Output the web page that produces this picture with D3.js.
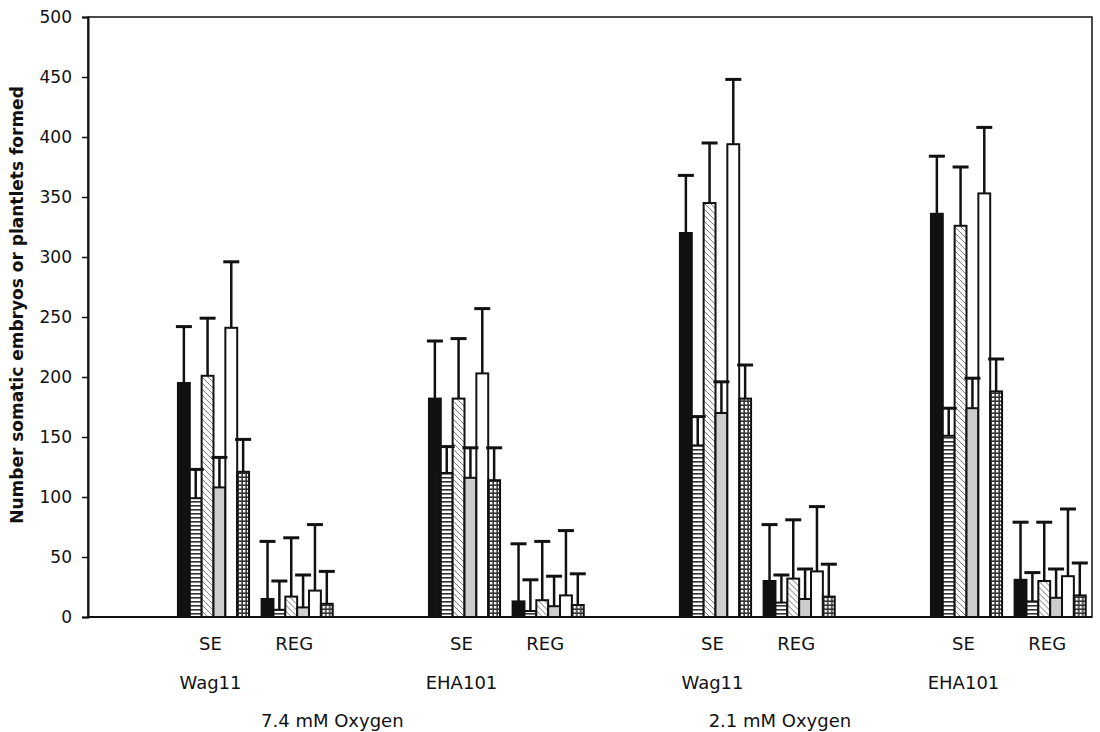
<!DOCTYPE html>
<html>
<head>
<meta charset="utf-8">
<script src="https://cdn.jsdelivr.net/npm/d3@7"></script>
<style>
  body { margin: 0; background: #fff; }
  text { font-family: "DejaVu Sans", Verdana, sans-serif; fill: #111; }
</style>
</head>
<body>
<svg id="chart"></svg>
<script>
// slots along the x axis, "" = empty spacer slot
var slots = ["", "SE", "REG", "", "SE", "REG", "", "SE", "REG", "", "SE", "REG"];
var groups = [1, 2, 4, 5, 7, 8, 10, 11];

var strainLabels = [
  { slot: 1, text: "Wag11" },
  { slot: 4, text: "EHA101" },
  { slot: 7, text: "Wag11" },
  { slot: 10, text: "EHA101" }
];
var oxygenLabels = [
  { slot: 2.92, text: "7.4 mM Oxygen" },
  { slot: 8.27, text: "2.1 mM Oxygen" }
];

var series = ["s1", "s2", "s3", "s4", "s5", "s6"];

// bar values per group (6 series each)
var values = [
  [195, 99, 201, 108, 241, 121],
  [15, 6, 17, 8, 22, 11],
  [182, 120, 182, 116, 203, 114],
  [13, 5, 14, 9, 18, 10],
  [320, 143, 345, 170, 394, 182],
  [30, 12, 32, 15, 38, 17],
  [336, 151, 326, 174, 353, 188],
  [31, 13, 30, 16, 34, 18]
];
// top of error bar per group
var errTops = [
  [242, 123, 249, 133, 296, 148],
  [63, 30, 66, 35, 77, 38],
  [230, 142, 232, 141, 257, 141],
  [61, 31, 63, 34, 72, 36],
  [368, 167, 395, 196, 448, 210],
  [77, 35, 81, 40, 92, 44],
  [384, 174, 375, 199, 408, 215],
  [79, 37, 79, 40, 90, 45]
];

var yTicks = d3.range(0, 501, 50);

var width = 1100, height = 732;
var margin = { top: 17, right: 8, bottom: 115, left: 88 };
var plotW = width - margin.left - margin.right,
    plotH = height - margin.top - margin.bottom;

var svg = d3.select("#chart")
    .attr("width", width)
    .attr("height", height);

// patterns
var defs = svg.append("defs");

var pHoriz = defs.append("pattern").attr("id", "horiz")
    .attr("patternUnits", "userSpaceOnUse").attr("width", 4).attr("height", 4);
pHoriz.append("rect").attr("width", 4).attr("height", 4).attr("fill", "#fff");
pHoriz.append("rect").attr("y", 0).attr("width", 4).attr("height", 1.6).attr("fill", "#333");

var pDiag = defs.append("pattern").attr("id", "diag")
    .attr("patternUnits", "userSpaceOnUse").attr("width", 6).attr("height", 6);
pDiag.append("rect").attr("width", 6).attr("height", 6).attr("fill", "#fff");
pDiag.append("path").attr("d", "M0,0 L6,6 M-3,3 L3,9 M3,-3 L9,3")
    .attr("stroke", "#777").attr("stroke-width", 1);

var pDots = defs.append("pattern").attr("id", "dots")
    .attr("patternUnits", "userSpaceOnUse").attr("width", 4).attr("height", 4);
pDots.append("rect").attr("width", 4).attr("height", 4).attr("fill", "#333");
pDots.append("rect").attr("x", 1).attr("y", 1).attr("width", 2.4).attr("height", 2.4).attr("fill", "#fff");

var fills = ["#111", "url(#horiz)", "url(#diag)", "#cdcdcd", "#fff", "url(#dots)"];

var g = svg.append("g").attr("transform", "translate(" + margin.left + "," + margin.top + ")");

var x = d3.scaleBand()
    .domain(d3.range(slots.length))
    .range([0, plotW])
    .paddingInner(0.15)
    .paddingOuter(0.075);

var xs = d3.scaleBand()
    .domain(series)
    .range([0, x.bandwidth()]);

var y = d3.scaleLinear().domain([0, 500]).range([plotH, 0]);

// frame
g.append("rect")
    .attr("width", plotW).attr("height", plotH)
    .attr("fill", "none").attr("stroke", "#111").attr("stroke-width", 1.5);

// y axis
var yAxis = g.append("g")
    .call(d3.axisLeft(y).tickValues(yTicks).tickSize(6).tickPadding(10).tickFormat(d3.format("d")));
yAxis.select(".domain").attr("stroke", "#111").attr("stroke-width", 2);
yAxis.selectAll(".tick line").attr("stroke", "#111").attr("stroke-width", 1.5);
yAxis.selectAll(".tick text")
    .style("font-family", "'DejaVu Sans', Verdana, sans-serif")
    .style("font-size", "17px").attr("fill", "#111");

// x baseline
g.append("line")
    .attr("x1", 0).attr("x2", plotW).attr("y1", plotH).attr("y2", plotH)
    .attr("stroke", "#111").attr("stroke-width", 2);

// bars
var groupSel = g.selectAll(".grp")
    .data(groups)
    .enter().append("g")
    .attr("class", "grp")
    .attr("transform", function (d) { return "translate(" + x(d) + ",0)"; });

groupSel.selectAll("rect")
    .data(function (d, i) { return values[i]; })
    .enter().append("rect")
    .attr("x", function (d, i) { return xs(series[i]); })
    .attr("width", xs.bandwidth())
    .attr("y", function (d) { return y(d); })
    .attr("height", function (d) { return plotH - y(d); })
    .attr("fill", function (d, i) { return fills[i]; })
    .attr("stroke", "#111")
    .attr("stroke-width", 2);

// error bars (upper only)
var errSel = groupSel.selectAll(".err")
    .data(function (d, gi) {
        return values[gi].map(function (v, i) { return { v: v, top: errTops[gi][i], i: i }; });
    })
    .enter().append("g").attr("class", "err");

errSel.append("line")
    .attr("x1", function (d) { return xs(series[d.i]) + xs.bandwidth() / 2; })
    .attr("x2", function (d) { return xs(series[d.i]) + xs.bandwidth() / 2; })
    .attr("y1", function (d) { return y(d.v); })
    .attr("y2", function (d) { return y(d.top); })
    .attr("stroke", "#111").attr("stroke-width", 2.5);

errSel.append("line")
    .attr("x1", function (d) { return xs(series[d.i]) + xs.bandwidth() / 2 - 8; })
    .attr("x2", function (d) { return xs(series[d.i]) + xs.bandwidth() / 2 + 8; })
    .attr("y1", function (d) { return y(d.top); })
    .attr("y2", function (d) { return y(d.top); })
    .attr("stroke", "#111").attr("stroke-width", 3);

// category labels
var slotCenter = function (s) { return x.step() * (s + 0.5); };

g.selectAll(".cat")
    .data(groups)
    .enter().append("text")
    .attr("class", "cat")
    .attr("x", function (d) { return x(d) + x.bandwidth() / 2 - 3; })
    .attr("y", plotH + 33)
    .attr("text-anchor", "middle")
    .style("font-size", "18px")
    .text(function (d) { return slots[d]; });

g.selectAll(".strain")
    .data(strainLabels)
    .enter().append("text")
    .attr("x", function (d) { return x(d.slot) + x.bandwidth() / 2 - 3; })
    .attr("y", plotH + 72)
    .attr("text-anchor", "middle")
    .style("font-size", "18px")
    .text(function (d) { return d.text; });

g.selectAll(".oxy")
    .data(oxygenLabels)
    .enter().append("text")
    .attr("x", function (d) { return slotCenter(d.slot) - x.step() / 2; })
    .attr("y", plotH + 110)
    .attr("text-anchor", "middle")
    .style("font-size", "18px")
    .text(function (d) { return d.text; });

// y label
svg.append("text")
    .attr("transform", "translate(23,305) rotate(-90)")
    .attr("text-anchor", "middle")
    .style("font-size", "17px")
    .style("font-weight", "bold")
    .text("Number somatic embryos or plantlets formed");
</script>
</body>
</html>
